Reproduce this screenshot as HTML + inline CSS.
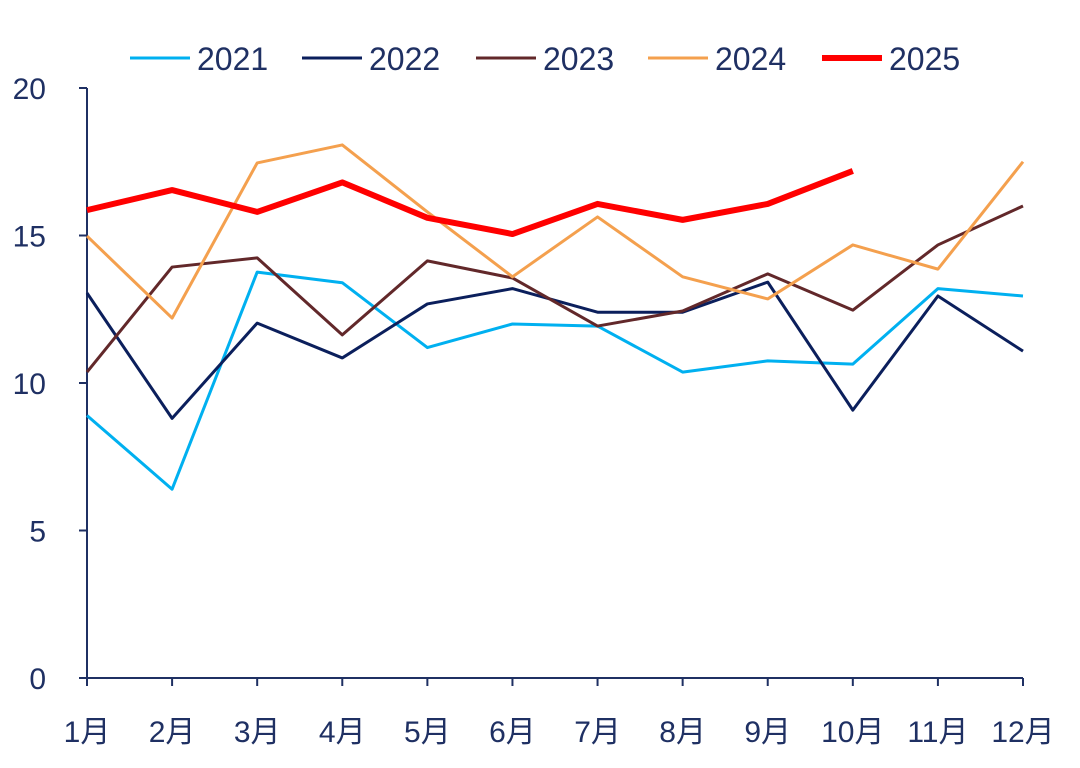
<!DOCTYPE html>
<html><head><meta charset="utf-8"><style>
body{margin:0;background:#fff;}
svg{display:block;font-family:"Liberation Sans","Noto Sans CJK SC",sans-serif;}
</style></head><body>
<svg id="chart" width="1080" height="768" xmlns="http://www.w3.org/2000/svg"></svg>
<script>
const categories=["1月","2月","3月","4月","5月","6月","7月","8月","9月","10月","11月","12月"];
const yTicks=[0,5,10,15,20];
const seriesNames=["2021","2022","2023","2024","2025"];
const s2021=[8.9,6.4,13.76,13.4,11.2,12.0,11.93,10.37,10.75,10.64,13.2,12.95];
const s2022=[13.05,8.8,12.03,10.85,12.68,13.2,12.4,12.4,13.42,9.08,12.95,11.08];
const s2023=[10.37,13.93,14.24,11.63,14.14,13.56,11.93,12.44,13.7,12.47,14.68,16.0];
const s2024=[14.98,12.2,17.46,18.07,15.8,13.6,15.63,13.6,12.85,14.68,13.86,17.5];
const s2025=[15.86,16.54,15.8,16.8,15.6,15.05,16.07,15.53,16.07,17.19];
const seriesData=[s2021,s2022,s2023,s2024,s2025];
const colors=["#00b0f0","#0b1f5c","#62282a","#f4a04e","#ff0000"];
const widths=[3,3,3,3,6];
const legendX=[130,302,476,648,822];

const NS="http://www.w3.org/2000/svg";
const svg=document.getElementById('chart');
const x0=87,x1=1023,yB=678,yT=88,axisColor="#1f3063";
const xs=i=>x0+(x1-x0)*i/(categories.length-1);
const ys=v=>yB-(yB-yT)*v/20;
function mk(t,a){const e=document.createElementNS(NS,t);for(const k in a)e.setAttribute(k,a[k]);svg.appendChild(e);return e;}

let e=mk('line',{x1:x0,y1:yT,x2:x0,y2:yB,stroke:axisColor,'stroke-width':2});


e=mk('line',{x1:x0,y1:yB,x2:x1,y2:yB,stroke:axisColor,'stroke-width':2});



yTicks.forEach(v=>{
  const y=ys(v);
  let t=mk('line',{x1:x0-8,y1:y,x2:x0,y2:y,stroke:axisColor,'stroke-width':2});
  
  
  let l=mk('text',{x:46,y:y+11,'text-anchor':'end','font-size':30,fill:axisColor});
  l.textContent=v;
  
  
});
categories.forEach((c,i)=>{
  const x=xs(i);
  let t=mk('line',{x1:x,y1:yB,x2:x,y2:yB+8,stroke:axisColor,'stroke-width':2});
  
  
  let l=mk('text',{x:x,y:742,'text-anchor':'middle','font-size':30,fill:axisColor});
  l.textContent=c;
  
  
});
seriesData.forEach((d,si)=>{
  const pts=d.map((v,i)=>xs(i)+','+ys(v)).join(' ');
  let p=mk('polyline',{points:pts,fill:'none',stroke:colors[si],'stroke-width':widths[si],'stroke-linejoin':'round'});
  
  
  let g=mk('line',{x1:legendX[si],y1:58,x2:legendX[si]+60,y2:58,stroke:colors[si],'stroke-width':widths[si]});
  
  
  let t=mk('text',{x:legendX[si]+67,y:70,'font-size':32,fill:axisColor});
  t.textContent=seriesNames[si];
  
  
});
</script>
</body></html>
